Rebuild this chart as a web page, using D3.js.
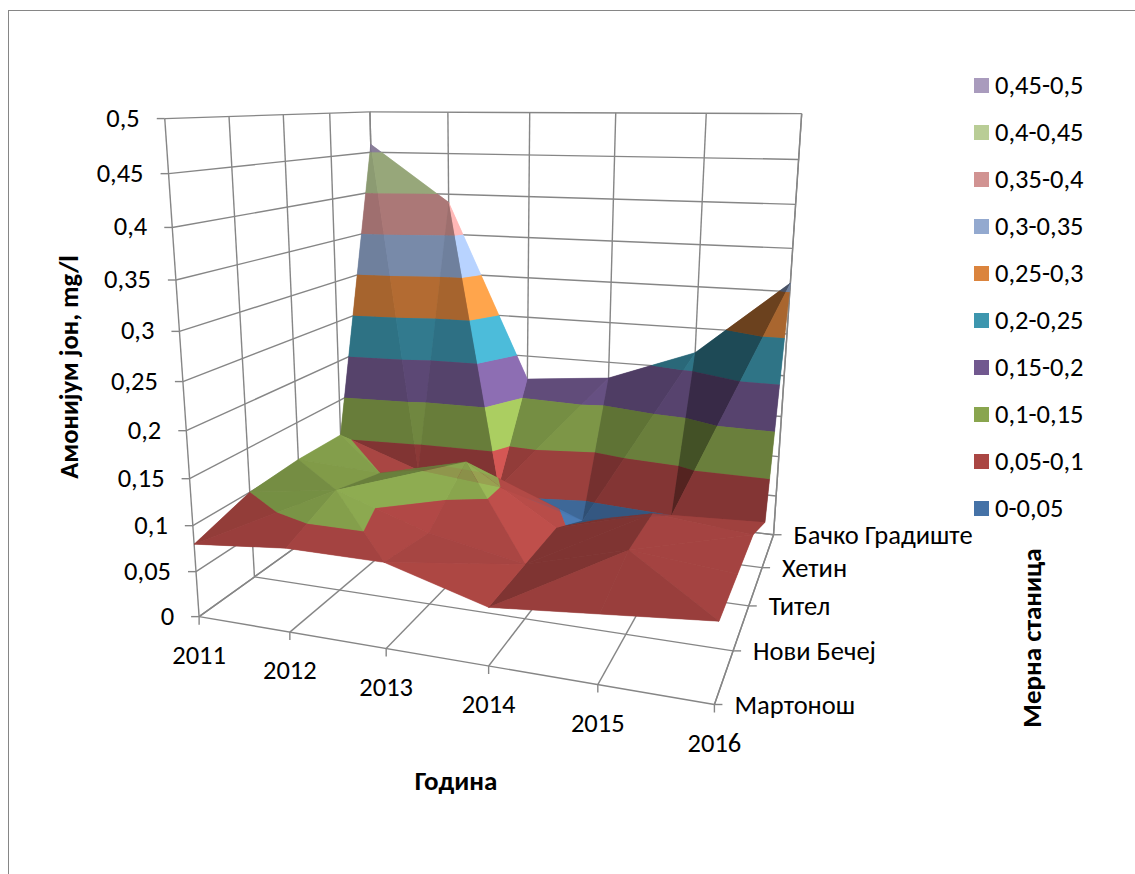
<!DOCTYPE html>
<html>
<head>
<meta charset="utf-8">
<script src="https://cdn.jsdelivr.net/npm/d3@7/dist/d3.min.js"></script>
<style>
  html, body { margin: 0; padding: 0; background: #fff; }
  svg { display: block; }
  text { font-family: Carlito, Lato, "Open Sans", "Noto Sans", sans-serif; fill: #000; }
</style>
</head>
<body>
<svg id="chart" width="1135" height="874"></svg>
<script>
// Ammonium ion concentration by year and measuring station
const years = ["2011", "2012", "2013", "2014", "2015", "2016"];
const stations = ["Мартонош", "Нови Бечеј", "Тител", "Хетин", "Бачко Градиште"];
const martonos      = [0.08, 0.09, 0.09, 0.06, 0.07, 0.08];
const noviBecej     = [0.10, 0.115, 0.08, 0.06, 0.09, 0.08];
const titel         = [0.105, 0.10, 0.125, 0.06, 0.09, 0.08];
const hetin         = [0.105, 0.07, 0.06, 0.03, 0.05, 0.055];
const backoGradiste = [0.46, 0.39, 0.17, 0.18, 0.22, 0.31];
const valueTicks = [0, 0.05, 0.1, 0.15, 0.2, 0.25, 0.3, 0.35, 0.4, 0.45, 0.5];
const bandLabels = ["0-0,05", "0,05-0,1", "0,1-0,15", "0,15-0,2", "0,2-0,25", "0,25-0,3", "0,3-0,35", "0,35-0,4", "0,4-0,45", "0,45-0,5"];
const bandColors = ["#4572A7", "#AA4643", "#89A54E", "#71588F", "#3D96AE", "#DB843D", "#93A9CF", "#D19392", "#B9CD96", "#A99BBD"];

const rows = [martonos, noviBecej, titel, hetin, backoGradiste];
const svg = d3.select("#chart");
const fmt = v => String(v).replace(".", ",");

const uScale = d3.scalePoint().domain(years).range([0, 1]);
const vScale = d3.scalePoint().domain(stations).range([0, 1]);
const hScale = d3.scaleLinear().domain([0, 0.5]).range([0, 1]);

// View calibration: box coordinates (year, station, height) against screen position
const viewAnchors = [
  [0, 0, 0, 199, 616], [1, 0, 0, 715, 705], [1, 1, 0, 775, 534], [0, 0, 1, 165, 118],
  [1, 1, 1, 802, 113], [0, 1, 1, 370, 112], [0, .25, 0, 254, 577], [1, .25, 0, 733, 651],
  [1, .5, 0, 748, 606], [1, .75, 0, 762, 568], [.2, 0, 0, 290, 633], [.4, 0, 0, 387, 648],
  [.6, 0, 0, 488, 666], [.8, 0, 0, 598, 684], [0, 0, .5, 182.7, 381.7], [0, .25, 1, 229, 117],
  [0, .5, 1, 283, 115], [0, .75, 1, 330, 113], [.2, 1, 1, 447.7, 112], [.4, 1, 1, 530, 112.7],
  [.6, 1, 1, 615.7, 112.7], [.8, 1, 1, 706.7, 113.3], [1, 1, .5, 785, 335]
];

// Least-squares fit of a 3x4 projective camera with the last entry fixed at 1
function solveCamera(anchors) {
  const n = 11, A = d3.range(n).map(() => new Array(n + 1).fill(0));
  const add = (r, t) => {
    for (let i = 0; i < n; i++) {
      for (let j = 0; j < n; j++) A[i][j] += r[i] * r[j];
      A[i][n] += r[i] * t;
    }
  };
  anchors.forEach(([u, v, h, x, y]) => {
    const X = x / 1000, Y = y / 1000;
    add([u, v, h, 1, 0, 0, 0, 0, -X * u, -X * v, -X * h], X);
    add([0, 0, 0, 0, u, v, h, 1, -Y * u, -Y * v, -Y * h], Y);
  });
  for (let c = 0; c < n; c++) {
    let p = c;
    for (let r = c + 1; r < n; r++) if (Math.abs(A[r][c]) > Math.abs(A[p][c])) p = r;
    [A[c], A[p]] = [A[p], A[c]];
    for (let r = 0; r < n; r++) {
      if (r === c) continue;
      const f = A[r][c] / A[c][c];
      for (let k = c; k <= n; k++) A[r][k] -= f * A[c][k];
    }
  }
  return A.map((row, i) => row[n] / row[i]);
}
const cam = solveCamera(viewAnchors);
function depth(u, v, h) { return cam[8] * u + cam[9] * v + cam[10] * h + 1; }
function project(u, v, h) {
  const w = depth(u, v, h);
  return [1000 * (cam[0] * u + cam[1] * v + cam[2] * h + cam[3]) / w,
          1000 * (cam[4] * u + cam[5] * v + cam[6] * h + cam[7]) / w];
}

const grid = svg.append("g").attr("fill", "none").attr("stroke", "#868686").attr("stroke-width", 1.4);
function seg(a, b) {
  grid.append("line").attr("x1", a[0]).attr("y1", a[1]).attr("x2", b[0]).attr("y2", b[1]);
}

// Chart frame
svg.append("rect").attr("x", 8.5).attr("y", 10.5).attr("width", 1200).attr("height", 1000)
  .attr("fill", "none").attr("stroke", "#868686").attr("stroke-width", 1);

// Walls and floor
valueTicks.forEach(t => {
  const h = hScale(t);
  seg(project(0, 0, h), project(0, 1, h));
  seg(project(0, 1, h), project(1, 1, h));
});
stations.forEach(s => {
  const v = vScale(s);
  seg(project(0, v, 0), project(0, v, 1));
  seg(project(0, v, 0), project(1, v, 0));
});
years.forEach(y => {
  const u = uScale(y);
  seg(project(u, 1, 0), project(u, 1, 1));
  seg(project(u, 0, 0), project(u, 1, 0));
});
seg(project(1, 0, 0), project(1, 1, 0));
seg(project(1, 1, 0), project(1, 1, 1));

// Surface: each cell is split in two along its higher diagonal, then cut into value bands
const bandWidth = 0.05;
function cut(poly, limit, keepAbove) {
  const out = [];
  poly.forEach((p, i) => {
    const q = poly[(i + 1) % poly.length];
    const pIn = keepAbove ? p[2] >= limit : p[2] <= limit;
    const qIn = keepAbove ? q[2] >= limit : q[2] <= limit;
    if (pIn) out.push(p);
    if (pIn !== qIn) {
      const t = (limit - p[2]) / (q[2] - p[2]);
      out.push([p[0] + t * (q[0] - p[0]), p[1] + t * (q[1] - p[1]), limit]);
    }
  });
  return out;
}
// Light comes mostly from the high-year side, facets turned the other way fall into shade
function facetShade(tri) {
  const sx = 1, sy = 0.85, sz = 0.8 / 0.5;
  const a = [(tri[1][0] - tri[0][0]) * sx, (tri[1][1] - tri[0][1]) * sy, (tri[1][2] - tri[0][2]) * sz];
  const b = [(tri[2][0] - tri[0][0]) * sx, (tri[2][1] - tri[0][1]) * sy, (tri[2][2] - tri[0][2]) * sz];
  let n = [a[1] * b[2] - a[2] * b[1], a[2] * b[0] - a[0] * b[2], a[0] * b[1] - a[1] * b[0]];
  const len = Math.hypot(...n) * (n[2] < 0 ? -1 : 1);
  n = n.map(d => d / len);
  const side = n[0] > 0 ? 0.73 * Math.pow(n[0], 1.5) : 0.8 * n[0];
  return Math.max(0.45, Math.min(1.28, 0.45 + side - 0.12 * n[1] + 0.5 * n[2]));
}
const pieces = [];
function addTriangle(tri) {
  const shade = facetShade(tri);
  bandColors.forEach((color, i) => {
    let poly = cut(tri, i * bandWidth, true);
    if (poly.length) poly = cut(poly, (i + 1) * bandWidth, false);
    if (poly.length < 3) return;
    const mean = [d3.mean(poly, p => p[0]), d3.mean(poly, p => p[1]), d3.mean(poly, p => p[2])];
    const c = d3.rgb(color);
    pieces.push({
      d: poly.map(p => project(p[0], p[1], hScale(p[2]))),
      z: depth(mean[0], mean[1], hScale(mean[2])),
      fill: d3.rgb(c.r * shade, c.g * shade, c.b * shade).formatHex()
    });
  });
}
for (let j = 0; j < stations.length - 1; j++) {
  for (let i = 0; i < years.length - 1; i++) {
    const pt = (ii, jj) => [uScale(years[ii]), vScale(stations[jj]), rows[jj][ii]];
    const a = pt(i, j), b = pt(i + 1, j), c = pt(i, j + 1), d = pt(i + 1, j + 1);
    if (a[2] + d[2] >= b[2] + c[2]) { addTriangle([a, b, d]); addTriangle([a, d, c]); }
    else { addTriangle([a, b, c]); addTriangle([b, d, c]); }
  }
}
pieces.sort((p, q) => d3.descending(p.z, q.z));
const pathOf = p => "M" + p.d.map(q => q.join(",")).join("L") + "Z";
// An opaque pass hides the walls, a translucent pass lets the far facets show through the near ones
svg.append("g").selectAll("path").data(pieces).join("path")
  .attr("d", pathOf).attr("fill", p => p.fill).attr("stroke", p => p.fill).attr("stroke-width", 0.5);
svg.append("g").selectAll("path").data(pieces).join("path")
  .attr("d", pathOf)
  .attr("fill", p => p.fill)
  .attr("fill-opacity", 0.8);

// Value axis
const labels = svg.append("g").attr("font-size", 26.5);
valueTicks.forEach(t => {
  const p = project(0, 0, hScale(t));
  seg(p, [p[0] - 8, p[1]]);
  labels.append("text").attr("x", p[0] - 25).attr("y", p[1] + 8).attr("text-anchor", "end").text(fmt(t));
});
// Year axis
years.forEach(y => {
  const p = project(uScale(y), 0, 0);
  seg(p, [p[0], p[1] + 8]);
  labels.append("text").attr("x", p[0]).attr("y", p[1] + 47).attr("text-anchor", "middle").text(y);
});
// Station axis
stations.forEach(s => {
  const p = project(1, vScale(s), 0);
  seg(p, [p[0] + 8, p[1]]);
  labels.append("text").attr("x", p[0] + 20).attr("y", p[1] + 9).text(s);
});

// Axis titles
svg.append("text").attr("transform", "translate(78,367) rotate(-90)").attr("text-anchor", "middle")
  .attr("font-size", 26.5).attr("font-weight", "bold").text("Амонијум јон, mg/l");
svg.append("text").attr("x", 456).attr("y", 790).attr("text-anchor", "middle")
  .attr("font-size", 27).attr("font-weight", "bold").text("Година");
svg.append("text").attr("transform", "translate(1041,638) rotate(-90)").attr("text-anchor", "middle")
  .attr("font-size", 27).attr("font-weight", "bold").text("Мерна станица");

// Legend, highest band first
const legendY = d3.scalePoint().domain(d3.range(bandLabels.length).reverse()).range([85.5, 508.5]);
const legend = svg.append("g").selectAll("g").data(bandLabels).join("g")
  .attr("transform", (d, i) => `translate(974,${legendY(i)})`);
legend.append("rect").attr("y", -7.5).attr("width", 15).attr("height", 15)
  .attr("fill", (d, i) => bandColors[i]);
legend.append("text").attr("x", 21).attr("y", 8).attr("font-size", 26.5).text(d => d);
</script>
</body>
</html>
